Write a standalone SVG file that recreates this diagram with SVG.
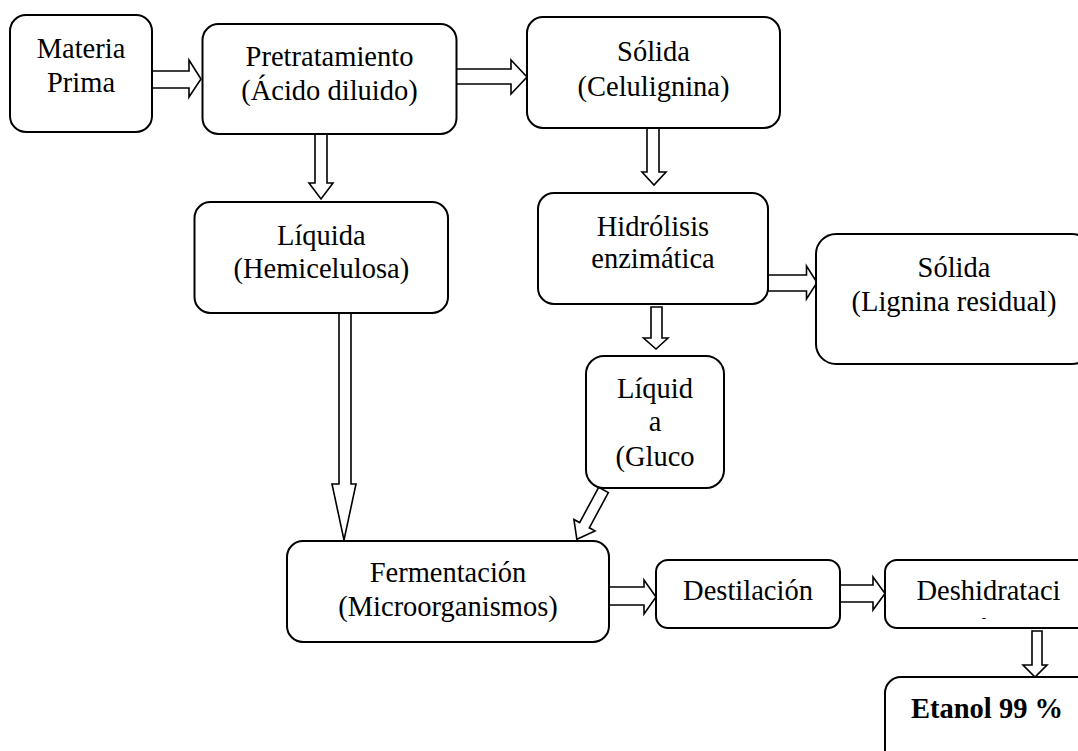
<svg xmlns="http://www.w3.org/2000/svg" width="1078" height="751" viewBox="0 0 1078 751">
<style>
.box{fill:#fff;stroke:#000;stroke-width:2}
.arr{fill:#fff;stroke:#000;stroke-width:1.6;stroke-linejoin:miter}
.t{font-family:"Liberation Serif","Times New Roman",serif;font-size:28.5px;fill:#000;text-anchor:middle}
.b{font-weight:bold}
</style>
<defs>
<clipPath id="clipDes"><rect x="885" y="560" width="207" height="59"/></clipPath>
</defs>
<rect width="1078" height="751" fill="#fff"/>
<g id="connectors">
<polygon class="arr" points="152,71 189,71 189,60 201,79 189,97 189,88 152,88"/>
<polygon class="arr" points="456,69 511,69 511,60 527,77 511,94 511,84 456,84"/>
<polygon class="arr" points="315,134 327,134 327,183 333,183 321,199 309,183 315,183"/>
<polygon class="arr" points="647,128 659,128 659,172 666,172 654,185 642,172 647,172"/>
<polygon class="arr" points="768,275 806.5,275 806.5,266 817,282.5 806.5,299 806.5,291 768,291"/>
<polygon class="arr" points="651,307 662,307 662,338 668,338 656,349 643.5,338 651,338"/>
<polygon class="arr" points="339,313 351,313 351,484 356,484 344,540 332,484 339,484"/>
<polygon class="arr" transform="translate(603.5,490) rotate(118.4)" points="0,-5.5 40,-5.5 40,-12 56,0 40,12 40,5.5 0,5.5"/>
<polygon class="arr" points="609,587 644,587 644,580 656,597 644,614 644,605 609,605"/>
<polygon class="arr" points="840,585 873,585 873,577 885,593.5 873,610 873,602 840,602"/>
<polygon class="arr" points="1032,631 1042,631 1042,665 1047,665 1035,677 1023,665 1032,665"/>
</g>
<g id="materia-prima">
<rect class="box" x="10" y="15" width="142" height="117" rx="16"/>
<text class="t" x="81" y="58">Materia</text>
<text class="t" x="81" y="92">Prima</text>
</g>
<g id="pretratamiento">
<rect class="box" x="202.5" y="24" width="254" height="110" rx="16"/>
<text class="t" x="329.5" y="66">Pretratamiento</text>
<text class="t" x="329.5" y="100">(Ácido diluido)</text>
</g>
<g id="solida-celulignina">
<rect class="box" x="527" y="17" width="253" height="111" rx="16"/>
<text class="t" x="653.5" y="61">Sólida</text>
<text class="t" x="653.5" y="96">(Celulignina)</text>
</g>
<g id="liquida-hemicelulosa">
<rect class="box" x="194.5" y="202" width="253.5" height="111" rx="16"/>
<text class="t" x="321.3" y="245">Líquida</text>
<text class="t" x="321.3" y="278">(Hemicelulosa)</text>
</g>
<g id="hidrolisis">
<rect class="box" x="538" y="193" width="230" height="111" rx="16"/>
<text class="t" x="653" y="236">Hidrólisis</text>
<text class="t" x="653" y="268">enzimática</text>
</g>
<g id="solida-lignina">
<rect class="box" x="816" y="234" width="276" height="130" rx="20"/>
<text class="t" x="954" y="277">Sólida</text>
<text class="t" x="954" y="311">(Lignina residual)</text>
</g>
<g id="liquida-glucosa">
<rect class="box" x="586" y="356" width="138" height="132" rx="18"/>
<text class="t" x="655" y="398">Líquid</text>
<text class="t" x="655" y="431">a</text>
<text class="t" x="655" y="466">(Gluco</text>
</g>
<g id="fermentacion">
<rect class="box" x="287" y="541" width="322" height="101" rx="16"/>
<text class="t" x="448" y="582">Fermentación</text>
<text class="t" x="448" y="616">(Microorganismos)</text>
</g>
<g id="destilacion">
<rect class="box" x="656" y="560" width="184" height="68" rx="12"/>
<text class="t" x="748" y="600">Destilación</text>
</g>
<g id="deshidratacion">
<rect class="box" x="885" y="560" width="207" height="68" rx="12"/>
<text class="t" x="988.5" y="600">Deshidrataci</text>
<text class="t" x="988.5" y="639" clip-path="url(#clipDes)">ón</text>
</g>
<g id="etanol">
<rect class="box" x="885" y="677" width="207" height="110" rx="16"/>
<text class="t b" x="987" y="718">Etanol 99 %</text>
</g>
</svg>
